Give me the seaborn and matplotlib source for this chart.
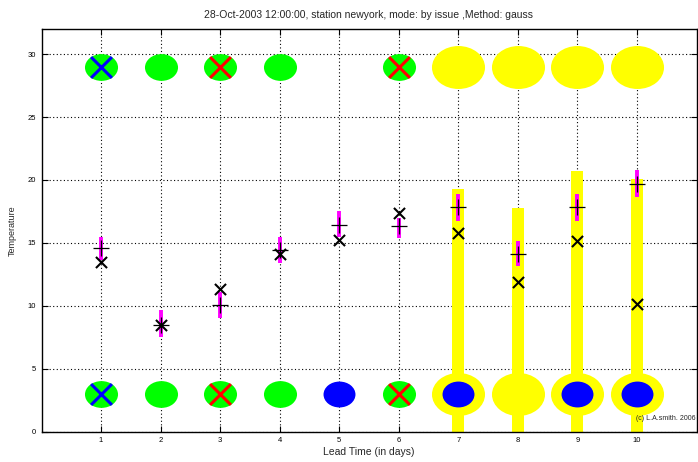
import numpy as np
import pandas as pd
import matplotlib
matplotlib.use("Agg")
import matplotlib.pyplot as plt
from matplotlib.path import Path
from matplotlib.transforms import Affine2D
import seaborn as sns

# ---------------- data ----------------
lead_days = [1, 2, 3, 4, 5, 6, 7, 8, 9, 10]
plus_vals = [14.6, 8.5, 10.05, 14.4, 16.4, 16.3, 17.83, 14.13, 17.83, 19.68]
cross_vals = [13.47, 8.5, 11.3, 14.15, 15.2, 17.4, 15.76, 11.87, 15.18, 10.16]
magenta_low = [13.6, 7.5, 9.05, 13.4, 15.5, 15.4, 16.77, 13.12, 16.77, 18.62]
magenta_high = [15.5, 9.63, 11.1, 15.5, 17.5, 17.0, 18.85, 15.18, 18.85, 20.79]

bar_days = [7, 8, 9, 10]
bar_tops = [19.29, 17.75, 20.74, 20.08]

top_level = 29
bottom_level = 3
green_days_top = [1, 2, 3, 4, 6]
green_days_bottom = [1, 2, 3, 4, 6]
yellow_days = [7, 8, 9, 10]
blue_days_bottom = [5, 7, 9, 10]
blue_x_days = [1]
red_x_days = [3, 6]

title = "28-Oct-2003 12:00:00, station newyork, mode: by issue ,Method: gauss"
xlabel = "Lead Time (in days)"
ylabel = "Temperature"
credit = "(c) L.A.smith. 2006"
xticks = [1, 2, 3, 4, 5, 6, 7, 8, 9, 10]
yticks = [0, 5, 10, 15, 20, 25, 30]

# ---------------- style ----------------
sns.set_style("white")
plt.rcParams["font.family"] = ["Liberation Sans", "DejaVu Sans"]

W, H = 698, 462
fig = plt.figure(figsize=(W / 100, H / 100), dpi=100)
ax = fig.add_axes([41.5 / W, (H - 431.5) / H, (696.5 - 41.5) / W, (431.5 - 29) / H])

ellipse = Path.unit_circle().transformed(Affine2D().scale(1.0, 0.81))

# yellow bars
sns.barplot(x=bar_days, y=bar_tops, native_scale=True, width=0.2,
            color="#FFFF00", saturation=1, linewidth=0, ax=ax, zorder=2)

# yellow big ellipses (both rows)
yel = pd.DataFrame({"x": yellow_days * 2,
                    "y": [top_level] * len(yellow_days) + [bottom_level] * len(yellow_days)})
sns.scatterplot(data=yel, x="x", y="y", marker=ellipse, s=38.2 ** 2,
                color="#FFFF00", linewidth=0, ax=ax, zorder=3, legend=False)

# green ellipses
grn = pd.DataFrame({"x": green_days_top + green_days_bottom,
                    "y": [top_level] * len(green_days_top) + [bottom_level] * len(green_days_bottom)})
sns.scatterplot(data=grn, x="x", y="y", marker=ellipse, s=23.8 ** 2,
                color="#00FF00", linewidth=0, ax=ax, zorder=4, legend=False)

# blue ellipses
blu = pd.DataFrame({"x": blue_days_bottom, "y": [bottom_level] * len(blue_days_bottom)})
sns.scatterplot(data=blu, x="x", y="y", marker=ellipse, s=23.0 ** 2,
                color="#0000FF", linewidth=0, ax=ax, zorder=4, legend=False)

# coloured crosses
bx = pd.DataFrame({"x": blue_x_days * 2,
                   "y": [top_level] * len(blue_x_days) + [bottom_level] * len(blue_x_days)})
sns.scatterplot(data=bx, x="x", y="y", marker="x", s=15 ** 2, color="#0000FF",
                linewidth=2.2, ax=ax, zorder=5, legend=False)
rx = pd.DataFrame({"x": red_x_days * 2,
                   "y": [top_level] * len(red_x_days) + [bottom_level] * len(red_x_days)})
sns.scatterplot(data=rx, x="x", y="y", marker="x", s=15 ** 2, color="#FF0000",
                linewidth=2.2, ax=ax, zorder=5, legend=False)

# magenta spread bars
ax.vlines(lead_days, magenta_low, magenta_high, colors="#FF00FF", linewidth=2.8, zorder=6)

# black markers
sns.scatterplot(x=lead_days, y=plus_vals, marker="+", s=12.2 ** 2, color="black",
                linewidth=0.9, ax=ax, zorder=7, legend=False)
sns.scatterplot(x=lead_days, y=cross_vals, marker="x", s=8 ** 2, color="black",
                linewidth=1.5, ax=ax, zorder=7, legend=False)

# axes
ax.set_xlim(0, 11)
ax.set_ylim(0, 32)
ax.set_xticks(xticks)
ax.set_yticks(yticks)
ax.set_xticklabels([str(t) for t in xticks])
ax.set_yticklabels([str(t) for t in yticks])
ax.grid(True, color="black", linestyle=(0, (1, 2.2)), linewidth=0.8)
ax.set_axisbelow(True)
ax.tick_params(direction="in", length=4, width=0.8, labelsize=5.5, pad=4,
               top=True, right=True, bottom=True, left=True, colors="black")
for sp in ax.spines.values():
    sp.set_visible(True)
    sp.set_color("black")
    sp.set_linewidth(1.0)
    sp.set_zorder(10)

ax.set_xlabel(xlabel, fontsize=7.5, labelpad=2)
ax.set_ylabel(ylabel, fontsize=6.5, labelpad=8)
ax.set_title(title, fontsize=7.5, pad=8)
ax.text(10.98, 1.0, credit, fontsize=5, ha="right", va="center", zorder=11)

fig.savefig("out.png", dpi=100)
